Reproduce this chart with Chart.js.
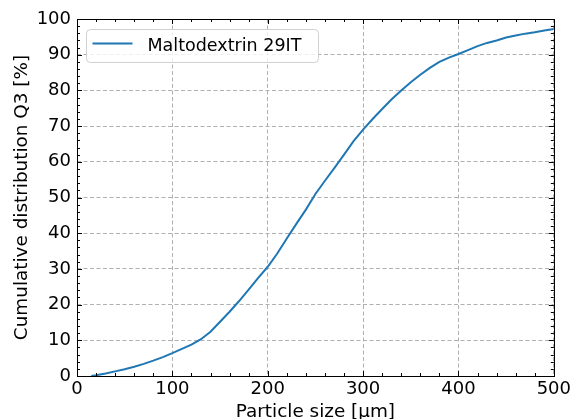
<!DOCTYPE html>
<html lang="en">
<head>
<meta charset="UTF-8">
<title>Cumulative distribution Q3</title>
<script src="https://cdn.jsdelivr.net/npm/chart.js"></script>
<style>
  html, body { margin: 0; padding: 0; background: #fff; }
</style>
</head>
<body>
<canvas id="q3Chart" width="574" height="419"></canvas>
<script>
// particle size in um, cumulative Q3 in %
const sizes = [15, 20, 30, 40, 50, 60, 70, 80, 90, 100,
               110, 120, 130, 140, 150, 160, 170, 180, 190, 200,
               210, 220, 230, 240, 250, 260, 270, 280, 290, 300,
               310, 320, 330, 340, 350, 360, 370, 380, 390, 400,
               410, 420, 430, 440, 450, 460, 470, 480, 490, 500];
const q3 = [0.0, 0.2, 0.7, 1.3, 1.9, 2.6, 3.4, 4.3, 5.3, 6.4,
            7.6, 8.8, 10.3, 12.4, 15.2, 18.0, 21.0, 24.2, 27.5, 30.6,
            34.3, 38.5, 42.6, 46.6, 51.0, 54.7, 58.3, 62.0, 65.8, 69.0,
            72.0, 74.8, 77.5, 80.0, 82.3, 84.4, 86.3, 88.0, 89.2, 90.2,
            91.3, 92.4, 93.3, 94.0, 94.8, 95.4, 95.9, 96.3, 96.8, 97.2];
const seriesLabel = 'Maltodextrin 29IT';
const xMajor = [0, 100, 200, 300, 400, 500];
const yMajor = [0, 10, 20, 30, 40, 50, 60, 70, 80, 90, 100];
const xMinorStep = 20;
const yMinorStep = 2;

const tickFont = { family: 'DejaVu Sans', size: 18 };
const titleFont = { family: 'DejaVu Sans', size: 18.4 };
const legendFont = { family: 'DejaVu Sans', size: 17.5 };

// matplotlib style frame: box + inward ticks on all four sides
const frameTicks = {
  id: 'frameTicks',
  afterDatasetsDraw(chart) {
    const { ctx, chartArea: a, scales: { x, y } } = chart;
    ctx.save();
    ctx.strokeStyle = '#000';
    ctx.lineWidth = 1;
    ctx.beginPath();
    for (let v = xMajor[0]; v <= xMajor[xMajor.length - 1]; v += xMinorStep) {
      const px = Math.round(x.getPixelForValue(v)) + 0.5;
      const len = xMajor.includes(v) ? 5 : 3;
      ctx.moveTo(px, a.bottom); ctx.lineTo(px, a.bottom - len);
      ctx.moveTo(px, a.top); ctx.lineTo(px, a.top + len);
    }
    for (let v = yMajor[0]; v <= yMajor[yMajor.length - 1]; v += yMinorStep) {
      const py = Math.round(y.getPixelForValue(v)) + 0.5;
      const len = yMajor.includes(v) ? 5 : 3;
      ctx.moveTo(a.left, py); ctx.lineTo(a.left + len, py);
      ctx.moveTo(a.right, py); ctx.lineTo(a.right - len, py);
    }
    ctx.stroke();
    ctx.strokeRect(Math.round(a.left) + 0.5, Math.round(a.top) + 0.5,
                   Math.round(a.right - a.left), Math.round(a.bottom - a.top));
    ctx.restore();
  }
};

// legend box in the upper left corner
const boxLegend = {
  id: 'boxLegend',
  afterDraw(chart) {
    const { ctx, chartArea: a } = chart;
    const ds = chart.data.datasets[0];
    const bx = a.left + 9.5, by = a.top + 10.5, bw = 232, bh = 33, r = 4;
    ctx.save();
    ctx.beginPath();
    ctx.roundRect(bx, by, bw, bh, r);
    ctx.fillStyle = 'rgba(255,255,255,0.8)';
    ctx.fill();
    ctx.strokeStyle = '#d0d0d0';
    ctx.lineWidth = 1;
    ctx.stroke();
    ctx.beginPath();
    ctx.moveTo(bx + 6, by + 14);
    ctx.lineTo(bx + 46, by + 14);
    ctx.strokeStyle = ds.borderColor;
    ctx.lineWidth = 2;
    ctx.stroke();
    ctx.fillStyle = '#000';
    ctx.font = legendFont.size + 'px "' + legendFont.family + '"';
    ctx.textBaseline = 'alphabetic';
    ctx.fillText(ds.label, bx + 61, by + 21.5);
    ctx.restore();
  }
};

new Chart(document.getElementById('q3Chart'), {
  type: 'line',
  data: {
    datasets: [{
      label: seriesLabel,
      data: sizes.map((s, i) => ({ x: s, y: q3[i] })),
      borderColor: '#1f77b4',
      borderWidth: 2,
      pointRadius: 0,
      fill: false,
      tension: 0
    }]
  },
  options: {
    responsive: false,
    animation: false,
    devicePixelRatio: 1,
    layout: { padding: { top: 19, right: 18, left: 0, bottom: 0 } },
    plugins: { legend: { display: false }, tooltip: { enabled: false } },
    scales: {
      x: {
        type: 'linear',
        min: xMajor[0],
        max: xMajor[xMajor.length - 1],
        afterFit: s => { s.height = 43; },
        afterBuildTicks: s => { s.ticks = xMajor.map(v => ({ value: v })); },
        ticks: { color: '#000', font: tickFont, padding: 3, maxRotation: 0 },
        grid: { color: '#b0b0b0', lineWidth: 1, drawTicks: false },
        border: { display: false, dash: [4, 2.5] },
        title: { display: true, text: 'Particle size [µm]', color: '#000', font: titleFont, padding: { top: 0, bottom: -4 } }
      },
      y: {
        min: yMajor[0],
        max: yMajor[yMajor.length - 1],
        afterFit: s => { s.width = 77; },
        afterBuildTicks: s => { s.ticks = yMajor.map(v => ({ value: v })); },
        ticks: { color: '#000', font: tickFont, padding: 6 },
        grid: { color: '#b0b0b0', lineWidth: 1, drawTicks: false },
        border: { display: false, dash: [4, 2.5] },
        title: { display: true, text: 'Cumulative distribution Q3 [%]', color: '#000', font: titleFont, padding: { top: 11, bottom: 0 } }
      }
    }
  },
  plugins: [frameTicks, boxLegend]
});
</script>
</body>
</html>
